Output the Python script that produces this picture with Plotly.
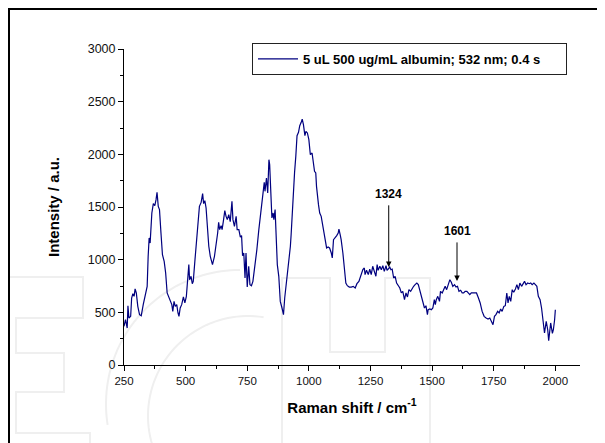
import numpy as np
import plotly.graph_objects as go

# ---- data ----
raman_shift = [250, 256, 263, 266, 270, 277, 281, 286, 291, 295, 300, 306, 313, 320, 328, 336, 344, 348, 352, 356,
               363, 369, 375, 380, 384, 389, 394, 400, 406, 413, 419, 425, 431, 438, 444, 448, 453, 458, 464, 469,
               473, 478, 484, 491, 497, 503, 508, 513, 516, 522, 527, 531, 538, 544, 550, 556, 563, 569, 573, 578,
               583, 588, 594, 600, 609, 617, 625, 630, 634, 638, 644, 648, 653, 659, 664, 669, 675, 681, 688, 692,
               698, 705, 709, 716, 722, 727, 731, 736, 741, 745, 750, 756, 761, 767, 773, 781, 789, 797, 805, 813,
               819, 822, 828, 833, 838, 841, 845, 850, 855, 858, 863, 867, 872, 878, 884, 891, 897, 902, 906, 913,
               919, 925, 928, 933, 938, 942, 947, 952, 958, 963, 969, 973, 978, 984, 988, 994, 1000, 1006, 1013, 1017,
               1023, 1028, 1031, 1039, 1044, 1050, 1056, 1063, 1067, 1072, 1078, 1084, 1091, 1095, 1100, 1106, 1113, 1119, 1122, 1127,
               1131, 1138, 1144, 1150, 1156, 1164, 1172, 1180, 1188, 1195, 1203, 1211, 1219, 1225, 1228, 1234, 1241, 1247, 1253, 1259,
               1266, 1272, 1277, 1281, 1288, 1294, 1300, 1306, 1313, 1317, 1322, 1328, 1333, 1338, 1344, 1350, 1356, 1363, 1369, 1375,
               1381, 1388, 1394, 1400, 1406, 1413, 1419, 1425, 1431, 1438, 1444, 1450, 1456, 1463, 1469, 1475, 1481, 1484, 1491, 1497,
               1503, 1509, 1513, 1517, 1523, 1530, 1534, 1541, 1547, 1553, 1559, 1566, 1572, 1578, 1584, 1591, 1597, 1603, 1609, 1616,
               1622, 1628, 1634, 1641, 1647, 1653, 1659, 1666, 1672, 1680, 1688, 1695, 1703, 1711, 1719, 1727, 1734, 1741, 1747, 1753,
               1759, 1766, 1772, 1778, 1784, 1791, 1797, 1803, 1808, 1813, 1819, 1825, 1831, 1838, 1844, 1850, 1856, 1863, 1869, 1875,
               1881, 1888, 1894, 1900, 1906, 1913, 1919, 1925, 1931, 1938, 1944, 1950, 1956, 1963, 1969, 1973, 1981, 1988, 1992, 1997,
               2000]
intensity = [367, 430, 351, 563, 446, 462, 636, 677, 652, 722, 684, 557, 478, 468, 573, 652, 747, 1032, 1206, 1158,
             1443, 1532, 1513, 1570, 1639, 1506, 1475, 1253, 1047, 984, 873, 684, 652, 620, 573, 509, 604, 557, 573, 494,
             462, 541, 573, 646, 589, 652, 842, 953, 810, 842, 772, 794, 1000, 1190, 1411, 1506, 1544, 1627, 1532, 1560,
             1491, 1285, 1127, 1032, 953, 1032, 1142, 1253, 1354, 1285, 1323, 1285, 1364, 1465, 1411, 1380, 1427, 1361, 1554, 1380,
             1316, 1411, 1285, 1285, 1215, 1228, 1038, 1063, 826, 1063, 740, 937, 763, 753, 794, 937, 1095, 1285, 1459, 1633,
             1734, 1649, 1775, 1633, 1949, 1902, 1696, 1396, 1443, 1380, 1475, 1190, 953, 842, 604, 541, 478, 636, 715, 842,
             1000, 1127, 1237, 1443, 1744, 1829, 1981, 2177, 2209, 2272, 2304, 2335, 2282, 2177, 2218, 2203, 2139, 1997, 2013, 1949,
             1839, 1823, 1696, 1522, 1443, 1411, 1316, 1237, 1190, 1111, 1120, 1111, 1063, 1016, 1190, 1206, 1228, 1253, 1291, 1237,
             1190, 1063, 905, 778, 753, 740, 740, 747, 731, 772, 794, 848, 905, 921, 858, 899, 858, 911, 858, 937,
             889, 842, 953, 899, 937, 905, 943, 889, 943, 899, 911, 930, 905, 911, 826, 842, 778, 747, 731, 684,
             699, 620, 684, 646, 715, 699, 731, 747, 763, 778, 763, 715, 668, 604, 541, 563, 478, 525, 532, 525,
             541, 620, 573, 620, 652, 604, 699, 684, 715, 747, 715, 763, 810, 785, 747, 763, 740, 747, 699, 709,
             684, 684, 699, 699, 677, 668, 684, 684, 690, 684, 636, 589, 509, 462, 446, 437, 446, 415, 383, 462,
             478, 509, 494, 532, 509, 557, 563, 684, 589, 652, 604, 715, 690, 722, 763, 715, 778, 747, 778, 794,
             763, 778, 772, 778, 763, 778, 763, 747, 652, 620, 541, 415, 304, 415, 335, 231, 399, 300, 335, 430,
             525]
series_name = "5 uL 500 ug/mL albumin; 532 nm; 0.4 s"
peak_positions = [1324, 1601]
peak_tip_values = [931, 798]
peak_tail_values = [1530, 1178]
peak_labels = ["1324", "1601"]
x_tick_values = [250, 500, 750, 1000, 1250, 1500, 1750, 2000]
y_tick_values = [0, 500, 1000, 1500, 2000, 2500, 3000]

W, H = 605, 443
PAGE_OFF = 8                       # the page body margin shifts the figure by 8 px
L_REF, T_REF = 124, 49             # plot-area corner in reference pixels
PW, PH = 456, 316
L, T = L_REF - PAGE_OFF, T_REF - PAGE_OFF
R, B = W - L - PW, H - T - PH


def px(xp):
    return (xp - L_REF) / PW


def py(yp):
    return (T_REF + PH - yp) / PH


def path_from(points):
    return "M " + " L ".join(f"{px(a):.4f},{py(b):.4f}" for a, b in points)


fig = go.Figure()
fig.add_trace(go.Scatter(x=raman_shift, y=intensity, mode="lines", name=f"<b>{series_name}</b>",
                         line=dict(color="#00007f", width=1.2)))

shapes = []
wm = dict(color="#efefef", width=2)
# watermark outlines (decoration)
shapes.append(dict(type="path", xref="paper", yref="paper", layer="below", line=wm,
                   path=path_from([(0, 277), (83, 277), (83, 318), (16, 318), (16, 353), (64, 353), (64, 392),
                                   (16, 392), (16, 433), (90, 433), (90, 450)])))
shapes.append(dict(type="path", xref="paper", yref="paper", layer="below", line=wm,
                   path=path_from([(282, 450), (282, 278), (330, 278), (330, 352), (385, 352), (385, 278),
                                   (430, 278), (430, 450)])))
outer = [(240 + 134 * np.cos(t), 404 - 134 * np.sin(t)) for t in np.linspace(np.pi * 1.05, np.pi * 0.5, 50)]
inner = [(248 + 100 * np.cos(t), 416 - 100 * np.sin(t)) for t in np.linspace(np.pi * 1.15, np.pi * 0.45, 50)]
shapes.append(dict(type="path", xref="paper", yref="paper", layer="below", line=wm, path=path_from(outer)))
shapes.append(dict(type="path", xref="paper", yref="paper", layer="below", line=wm, path=path_from(inner)))
# outer frame
shapes.append(dict(type="line", xref="paper", yref="paper", x0=px(9), x1=px(9), y0=py(9), y1=py(460),
                   line=dict(color="black", width=2)))
shapes.append(dict(type="line", xref="paper", yref="paper", x0=px(8), x1=px(620), y0=py(9), y1=py(9),
                   line=dict(color="black", width=2)))

annotations = []
for xp, tip, tail, lab in zip(peak_positions, peak_tip_values, peak_tail_values, peak_labels):
    annotations.append(dict(x=xp, y=tip, ax=xp, ay=tail, xref="x", yref="y", axref="x", ayref="y",
                            text="", showarrow=True, arrowhead=2, arrowsize=1.1, arrowwidth=1,
                            arrowcolor="black"))
    annotations.append(dict(x=xp, y=tail, xref="x", yref="y", text=f"<b>{lab}</b>", showarrow=False,
                            yanchor="bottom", yshift=1,
                            font=dict(family="Liberation Sans, Arial", size=12, color="black")))

fig.update_layout(
    width=W, height=H,
    margin=dict(l=L, r=R, t=T, b=B, autoexpand=False),
    paper_bgcolor="white", plot_bgcolor="white",
    font=dict(family="Liberation Sans, Arial", color="#111"),
    showlegend=True,
    legend=dict(x=px(252), y=py(43), xanchor="left", yanchor="top", orientation="h",
                bordercolor="#222", borderwidth=1, bgcolor="rgba(255,255,255,0)",
                font=dict(size=13, color="black", family="Liberation Sans, Arial"),
                entrywidth=258, entrywidthmode="pixels", itemwidth=40),
    shapes=shapes,
    annotations=annotations,
)
fig.update_xaxes(range=[250, 2100], showline=True, linecolor="black", linewidth=1, mirror=False,
                 ticks="outside", ticklen=5, tickcolor="black", tickvals=x_tick_values,
                 minor=dict(ticks="outside", ticklen=3, dtick=125, tick0=250, tickcolor="black"),
                 showgrid=False, zeroline=False, tickfont=dict(size=11.5, color="#111"),
                 title=dict(text="<b>Raman shift / cm<sup>-1</sup></b>", font=dict(size=15, color="black"),
                            standoff=16))
fig.update_yaxes(range=[0, 3000], showline=True, linecolor="black", linewidth=1, mirror=False,
                 ticks="outside", ticklen=5, tickcolor="black", tickvals=y_tick_values,
                 minor=dict(ticks="outside", ticklen=3, dtick=250, tick0=0, tickcolor="black"),
                 showgrid=False, zeroline=False, tickfont=dict(size=12.5, color="#111"),
                 title=dict(text="<b>Intensity / a.u.</b>", font=dict(size=15, color="black"), standoff=24))

fig.write_html("out.html")
